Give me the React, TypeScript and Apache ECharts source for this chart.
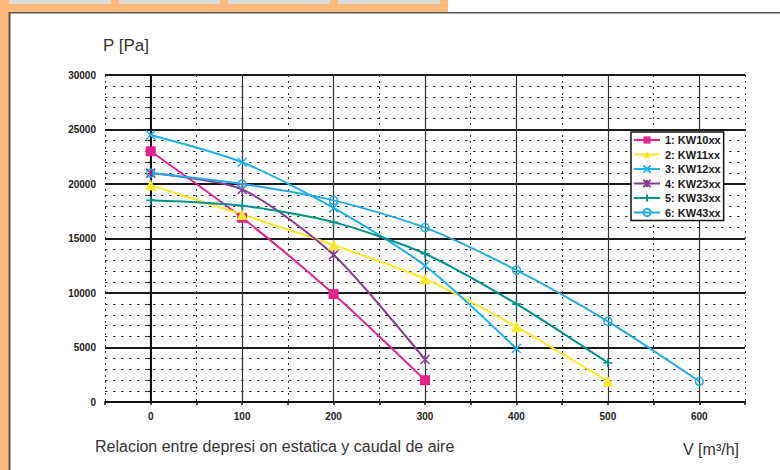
import React, { useEffect, useRef } from 'react';
import * as echarts from 'echarts';

// ---- data ----
const xValues = [0, 100, 200, 300, 400, 500, 600];
const xTickLabels = [0, 100, 200, 300, 400, 500, 600];
const seriesNames = ['1: KW10xx', '2: KW11xx', '3: KW12xx', '4: KW23xx', '5: KW33xx', '6: KW43xx'];
const kw10 = [23000, 16900, 9900, 2000];
const kw11 = [19900, 17200, 14400, 11300, 6900, 1900];
const kw12 = [24500, 22000, 17800, 12500, 4900];
const kw23 = [21000, 19500, 13500, 3900];
const kw33 = [18500, 18000, 16500, 13600, 9000, 3600];
const kw43 = [21000, 20000, 18500, 16000, 12100, 7400, 1900];
const seriesValues = [kw10, kw11, kw12, kw23, kw33, kw43];

const colors = ['#E6238A', '#FFE829', '#1BB3EE', '#8A3A94', '#00918C', '#27AAE3'];
const FONT = 'Liberation Sans, Arial, sans-serif';

const symbolDefs = [
  { symbol: 'rect', size: 10, fill: true },
  { symbol: 'triangle', size: 11, fill: true },
  { symbol: 'path://M0,0L10,10M10,0L0,10', size: 9, fill: false },
  { symbol: 'path://M0,0L10,10M10,0L0,10M5,0L5,10', size: 9, fill: false },
  { symbol: 'path://M0,5L10,5M5,0L5,10', size: 9, fill: false },
  { symbol: 'circle', size: 8, fill: false },
];

export default function App() {
  const ref = useRef<HTMLDivElement>(null);
  useEffect(() => {
    if (!ref.current) return;
    const chart = echarts.init(ref.current, undefined, { renderer: 'svg' });

    const series = seriesValues.map((vals, i) => {
      const def = symbolDefs[i];
      return {
        name: seriesNames[i],
        type: 'line',
        xAxisIndex: 0,
        yAxisIndex: 0,
        smooth: 0.25,
        data: vals.map((v, j) => [xValues[j], v]),
        symbol: def.symbol,
        symbolSize: def.size,
        showAllSymbol: true,
        lineStyle: { color: colors[i], width: 2 },
        itemStyle: def.fill
          ? { color: colors[i], borderColor: colors[i], borderWidth: 0 }
          : { color: 'rgba(255,255,255,0)', borderColor: colors[i], borderWidth: 1.5 },
        emphasis: { disabled: true },
      };
    });

    const cells = [
      [9, 111],
      [119, 220],
      [228, 330],
      [338, 440],
    ];

    const option: any = {
      animation: false,
      backgroundColor: '#ffffff',
      grid: { left: 105, right: 35, top: 75, bottom: 68 },
      legend: {
        orient: 'vertical',
        left: 631,
        top: 132,
        padding: [2, 3, 2, 2],
        backgroundColor: '#ffffff',
        borderColor: '#111',
        borderWidth: 1.5,
        itemWidth: 26,
        itemHeight: 9,
        itemGap: 2.5,
        selectedMode: false,
        data: seriesNames,
        textStyle: { fontFamily: FONT, fontSize: 11, fontWeight: 'bold', color: '#1a1a1a', lineHeight: 12 },
      },
      xAxis: [
        {
          type: 'value',
          position: 'bottom',
          min: -50,
          max: 650,
          interval: 100,
          axisLine: { show: true, lineStyle: { color: '#111', width: 2 } },
          axisTick: { show: false },
          axisLabel: { show: false },
          splitLine: { show: true, lineStyle: { color: '#333', width: 1, type: [2, 4] } },
          minorTick: { show: false, splitNumber: 2 },
          minorSplitLine: { show: true, lineStyle: { color: '#333', width: 1.2, type: 'solid' } },
        },
        {
          type: 'value',
          position: 'bottom',
          min: -50,
          max: 650,
          interval: 50,
          axisLine: { show: false },
          axisTick: { show: true, length: 3, lineStyle: { color: '#111', width: 1.5 } },
          axisLabel: {
            show: true,
            margin: 9,
            fontFamily: FONT,
            fontSize: 10,
            fontWeight: 'bold',
            color: '#222',
            formatter: (v: number) => (xTickLabels.indexOf(v) >= 0 ? String(v) : ''),
          },
          splitLine: { show: false },
        },
      ],
      yAxis: {
        type: 'value',
        min: 0,
        max: 30000,
        interval: 5000,
        axisLine: { show: true, lineStyle: { color: '#111', width: 2 } },
        axisTick: { show: true, length: 4, lineStyle: { color: '#111', width: 1.5 } },
        minorTick: { show: true, splitNumber: 5, length: 3, lineStyle: { color: '#111', width: 1.2 } },
        axisLabel: {
          margin: 9,
          fontFamily: FONT,
          fontSize: 10,
          fontWeight: 'bold',
          color: '#222',
          formatter: (v: number) => String(v),
        },
        splitLine: { show: true, lineStyle: { color: '#1a1a1a', width: 2 } },
        minorSplitLine: { show: true, lineStyle: { color: '#333', width: 1, type: [2.5, 5.5] } },
      },
      graphic: [
        { type: 'rect', shape: { x: 0, y: 0, width: 9, height: 470 }, style: { fill: '#FFB97B' }, silent: true },
        { type: 'rect', shape: { x: 0, y: 0, width: 448, height: 12 }, style: { fill: '#FFB97B' }, silent: true },
        ...cells.map((c) => ({
          type: 'rect',
          shape: { x: c[0], y: 0, width: c[1] - c[0], height: 4 },
          style: { fill: '#DCDCDC' },
          silent: true,
        })),
        { type: 'line', shape: { x1: 9, y1: 12.75, x2: 780, y2: 12.75 }, style: { stroke: '#555', lineWidth: 1.5 }, silent: true },
        { type: 'line', shape: { x1: 9.5, y1: 12, x2: 9.5, y2: 470 }, style: { stroke: '#555', lineWidth: 2 }, silent: true },
        {
          type: 'text',
          x: 103,
          y: 45,
          style: { text: 'P [Pa]', font: `17px ${FONT}`, fill: '#333', textAlign: 'left', textVerticalAlign: 'middle' },
          silent: true,
        },
        {
          type: 'text',
          x: 95,
          y: 446,
          style: {
            text: 'Relacion entre depresi on estatica y caudal de aire',
            font: `16px ${FONT}`,
            fill: '#333',
            textAlign: 'left',
            textVerticalAlign: 'middle',
          },
          silent: true,
        },
        {
          type: 'text',
          x: 683,
          y: 449,
          style: { text: 'V [m³/h]', font: `16px ${FONT}`, fill: '#333', textAlign: 'left', textVerticalAlign: 'middle' },
          silent: true,
        },
      ],
      series,
    };

    chart.setOption(option);
    return () => chart.dispose();
  }, []);

  return (
    <div
      ref={ref}
      style={{ position: 'fixed', left: 0, top: 0, width: 780, height: 470, background: '#fff' }}
    />
  );
}
